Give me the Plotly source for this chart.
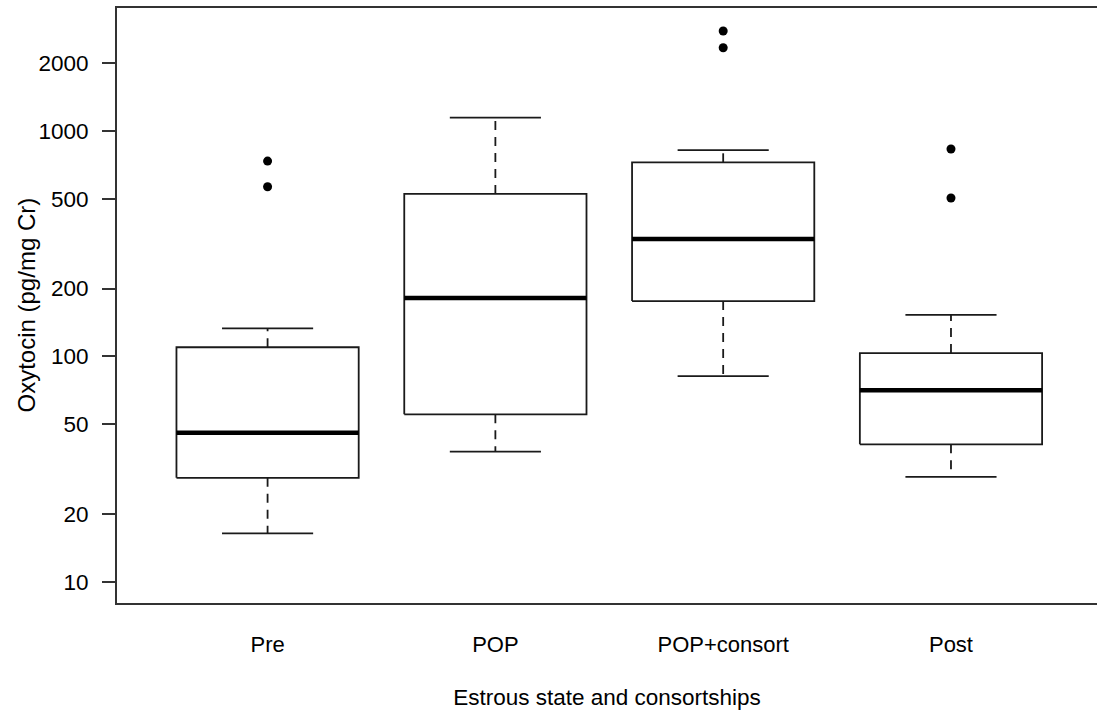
import plotly.graph_objects as go

categories = ["Pre", "POP", "POP+consort", "Post"]
whisker_low = [16.4, 37.8, 81.8, 29.2]
q1 = [28.9, 55.3, 176, 40.7]
median = [45.8, 181.5, 332, 70.7]
q3 = [109.8, 526, 727, 103.5]
whisker_high = [133.3, 1147, 824, 153]
outlier_cat = [1, 1, 3, 3, 4, 4]
outlier_val = [736, 566, 2781, 2345, 833, 505]
y_ticks = [10, 20, 50, 100, 200, 500, 1000, 2000]

HALF = 0.4
CAP = 0.2
LINE = "#1a1a1a"
FONT = "Liberation Sans, Arial, sans-serif"

fig = go.Figure()

box_x, box_y = [], []
med_x, med_y = [], []
wh_x, wh_y = [], []
cap_x, cap_y = [], []
for i, _ in enumerate(categories):
    c = i + 1
    box_x += [c - HALF, c + HALF, c + HALF, c - HALF, c - HALF, None]
    box_y += [q1[i], q1[i], q3[i], q3[i], q1[i], None]
    med_x += [c - HALF, c + HALF, None]
    med_y += [median[i], median[i], None]
    wh_x += [c, c, None, c, c, None]
    wh_y += [q3[i], whisker_high[i], None, q1[i], whisker_low[i], None]
    cap_x += [c - CAP, c + CAP, None, c - CAP, c + CAP, None]
    cap_y += [whisker_high[i], whisker_high[i], None, whisker_low[i], whisker_low[i], None]

fig.add_trace(go.Scatter(x=wh_x, y=wh_y, mode="lines",
                         line=dict(color=LINE, width=1.8, dash="9px,7px"),
                         hoverinfo="skip"))
fig.add_trace(go.Scatter(x=cap_x, y=cap_y, mode="lines",
                         line=dict(color=LINE, width=1.8), hoverinfo="skip"))
fig.add_trace(go.Scatter(x=box_x, y=box_y, mode="lines",
                         line=dict(color=LINE, width=1.8), hoverinfo="skip"))
fig.add_trace(go.Scatter(x=med_x, y=med_y, mode="lines",
                         line=dict(color="black", width=4.5), hoverinfo="skip"))
fig.add_trace(go.Scatter(x=outlier_cat, y=outlier_val, mode="markers",
                         marker=dict(color="black", size=9, symbol="circle"),
                         hoverinfo="skip"))

fig.update_layout(
    width=1097, height=713,
    margin=dict(l=117, r=0, t=8, b=110),
    paper_bgcolor="white", plot_bgcolor="white",
    showlegend=False,
    font=dict(family=FONT, size=22, color="black"),
)
fig.update_xaxes(
    range=[0.339, 4.641],
    tickmode="array", tickvals=[1, 2, 3, 4], ticktext=categories,
    ticks="", showgrid=False, zeroline=False,
    showline=True, mirror=True, linecolor="#333", linewidth=2,
    ticklabelstandoff=21,
    tickfont=dict(size=22),
    title=dict(text="Estrous state and consortships", standoff=33,
               font=dict(size=22.5)),
)
fig.update_yaxes(
    type="log", range=[0.9055, 3.5464],
    tickmode="array", tickvals=y_ticks, ticktext=[str(v) for v in y_ticks],
    ticks="outside", ticklen=13, tickwidth=2, tickcolor="#333",
    showgrid=False, zeroline=False,
    showline=True, linecolor="#333", linewidth=2,
    ticklabelstandoff=9,
    tickfont=dict(size=22.5),
)
fig.add_annotation(
    text="Oxytocin (pg/mg Cr)", textangle=-90,
    xref="paper", yref="paper", x=-(117 - 26) / 980, y=0.5,
    xanchor="center", yanchor="middle", showarrow=False,
    font=dict(size=24, family=FONT, color="black"),
)

fig.write_html("out.html")
